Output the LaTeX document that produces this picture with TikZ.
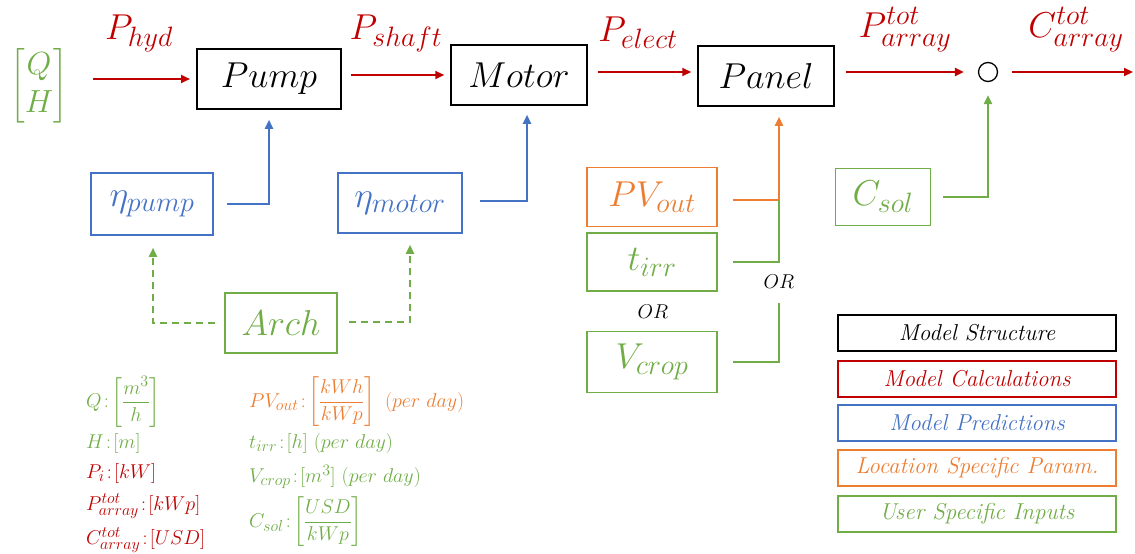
\RequirePackage{fix-cm}
\documentclass[tikz,border=0pt]{standalone}
\usepackage{amsmath}
\usetikzlibrary{arrows.meta}
\DeclareMathSizes{36}{36}{28}{22}
\DeclareMathSizes{32}{32}{25}{19}
\DeclareMathSizes{20}{20}{16}{12}
\definecolor{cred}{HTML}{C00000}
\definecolor{cblue}{HTML}{4472C4}
\definecolor{corange}{HTML}{ED7D31}
\definecolor{cgreen}{HTML}{70AD47}
\tikzset{
  box/.style={draw=#1, text=#1, line width=1.5pt, inner sep=0pt, font=\fontsize{36}{42}\selectfont},
  legbox/.style={draw=#1, text=#1, line width=1.5pt, inner sep=0pt, minimum width=278pt, minimum height=36pt, font=\fontsize{23}{27}\selectfont\itshape},
  conn/.style={draw=#1, line width=2.2pt},
  tip/.style={-{Triangle[length=9pt,width=8pt]}},
  lbl/.style={text=#1, inner sep=0pt, font=\fontsize{36}{40}\selectfont},
  unit/.style={text=#1, inner sep=0pt, anchor=west, font=\fontsize{20}{24}\selectfont},
  ortext/.style={text=black, inner sep=0pt, font=\fontsize{20}{24}\selectfont},
}
\begin{document}
\begin{tikzpicture}[x=1pt,y=-1pt]
\useasboundingbox (0,0) rectangle (1135,554);
% main chain
\node[box=black, minimum width=144pt, minimum height=60pt] (pump) at (269,79) {$Pump$};
\node[box=black, minimum width=136pt, minimum height=60pt] (motor) at (519,75) {$Motor$};
\node[box=black, minimum width=136pt, minimum height=60pt] (panel) at (766,76) {$Panel$};
\node[draw=black, line width=1.3pt, circle, minimum size=19pt, inner sep=0pt] (sum) at (988,72) {};
\node[text=cgreen, inner sep=0pt, font=\fontsize{32}{38}\selectfont] (qh) at (39,86) {$\begin{bmatrix} Q\\ H\end{bmatrix}$};
\coordinate (qhout) at (93,79);
\coordinate (cout) at (1133,72);
\coordinate (pumpin) at (190,79);
% arrows
\draw[conn=cred, tip] (qhout) -- (pumpin);
\draw[conn=cred, tip] ([xshift=9pt]pump.east |- 0,75) -- ([xshift=-6pt]motor.west |- 0,75);
\draw[conn=cred, tip] ([xshift=10pt]motor.east |- 0,72) -- ([xshift=-6pt]panel.west |- 0,72);
\draw[conn=cred, tip] ([xshift=11pt]panel.east |- sum) -- ([xshift=-14pt]sum.west);
\draw[conn=cred, tip] ([xshift=14pt]sum.east) -- (cout);
% arrow labels
\node[lbl=cred] (lhyd) at (139,33) {$P_{hyd}$};
\node[lbl=cred] (lshaft) at (396,33) {$P_{shaft}$};
\node[lbl=cred] (lelect) at (638,33) {$P_{elect}$};
\node[lbl=cred] (larray) at (905,30) {$P_{array}^{tot}$};
\node[lbl=cred] (lcarray) at (1076,30) {$C_{array}^{tot}$};
% efficiencies
\node[box=cblue, minimum width=122pt, minimum height=62pt] (etap) at (152,204) {$\eta_{pump}$};
\node[box=cblue, minimum width=124pt, minimum height=60pt] (etam) at (400,203) {$\eta_{motor}$};
\node[box=cgreen, minimum width=112pt, minimum height=60pt] (arch) at (281,323) {$Arch$};
\draw[conn=cblue, tip] ([xshift=13pt]etap.east) -| ([yshift=-10pt]pump.south);
\draw[conn=cblue, tip] ([xshift=17pt]etam.east |- 0,201) -| ([yshift=-9pt]motor.south -| 527,0);
\draw[conn=cgreen, tip, dash pattern=on 7pt off 5pt] ([xshift=-9pt]arch.west) -| ([yshift=-12pt]etap.south -| 153,0);
\draw[conn=cgreen, tip, dash pattern=on 7pt off 5pt] ([xshift=11pt]arch.east |- 0,322) -| ([yshift=-11pt]etam.south -| 410,0);
% panel inputs
\node[box=corange, minimum width=130pt, minimum height=59pt] (pv) at (652,197) {$PV_{out}$};
\node[box=cgreen, minimum width=130pt, minimum height=58pt] (tirr) at (652,262) {$t_{irr}$};
\node[box=cgreen, minimum width=130pt, minimum height=61pt] (vcrop) at (652,362) {$V_{crop}$};
\node[ortext] (or1) at (653,312) {$OR$};
\node[ortext] (or2) at (779,282) {$OR$};
\coordinate (jn) at (779,200);
\coordinate (orb) at (779,303);
\draw[conn=corange] ([xshift=15pt]pv.east |- jn) -- (jn);
\draw[conn=corange, tip] (jn) -- ([yshift=-10pt]panel.south -| jn);
\draw[conn=cgreen] ([xshift=15pt]tirr.east) -| (jn);
\draw[conn=cgreen] ([xshift=15pt]vcrop.east) -| (orb);
% cost
\node[box=cgreen, minimum width=95pt, minimum height=57pt] (csol) at (883,197) {$C_{sol}$};
\draw[conn=cgreen, tip] ([xshift=12pt]csol.east) -| ([yshift=-13pt]sum.south);
% legend
\node[legbox=black] (l1) at (977,333) {Model Structure};
\node[legbox=cred] (l2) at (977,379) {Model Calculations};
\node[legbox=cblue] (l3) at (977,423) {Model Predictions};
\node[legbox=corange] (l4) at (977,468) {Location Specific Param.};
\node[legbox=cgreen] (l5) at (977,514) {User Specific Inputs};
% units
\node[unit=cgreen] (uq) at (86,402) {$Q\!:\!\left[\dfrac{m^3}{h}\right]$};
\node[unit=cgreen] (uh) at (86,443) {$H\!:\![m]$};
\node[unit=cred] (up) at (86,473) {$P_i\!:\![kW]$};
\node[unit=cred] (upa) at (86,506) {$P_{array}^{tot}\!:\![kWp]$};
\node[unit=cred] (uca) at (86,540) {$C_{array}^{tot}\!:\![USD]$};
\node[unit=corange] (upv) at (249,402) {$PV_{out}\!:\!\left[\dfrac{kWh}{kWp}\right]\ (per\ day)$};
\node[unit=cgreen] (ut) at (249,443) {$t_{irr}\!:\![h]\ (per\ day)$};
\node[unit=cgreen] (uv) at (249,477) {$V_{crop}\!:\![m^3]\ (per\ day)$};
\node[unit=cgreen] (uc) at (249,522) {$C_{sol}\!:\!\left[\dfrac{USD}{kWp}\right]$};
\end{tikzpicture}
\end{document}
